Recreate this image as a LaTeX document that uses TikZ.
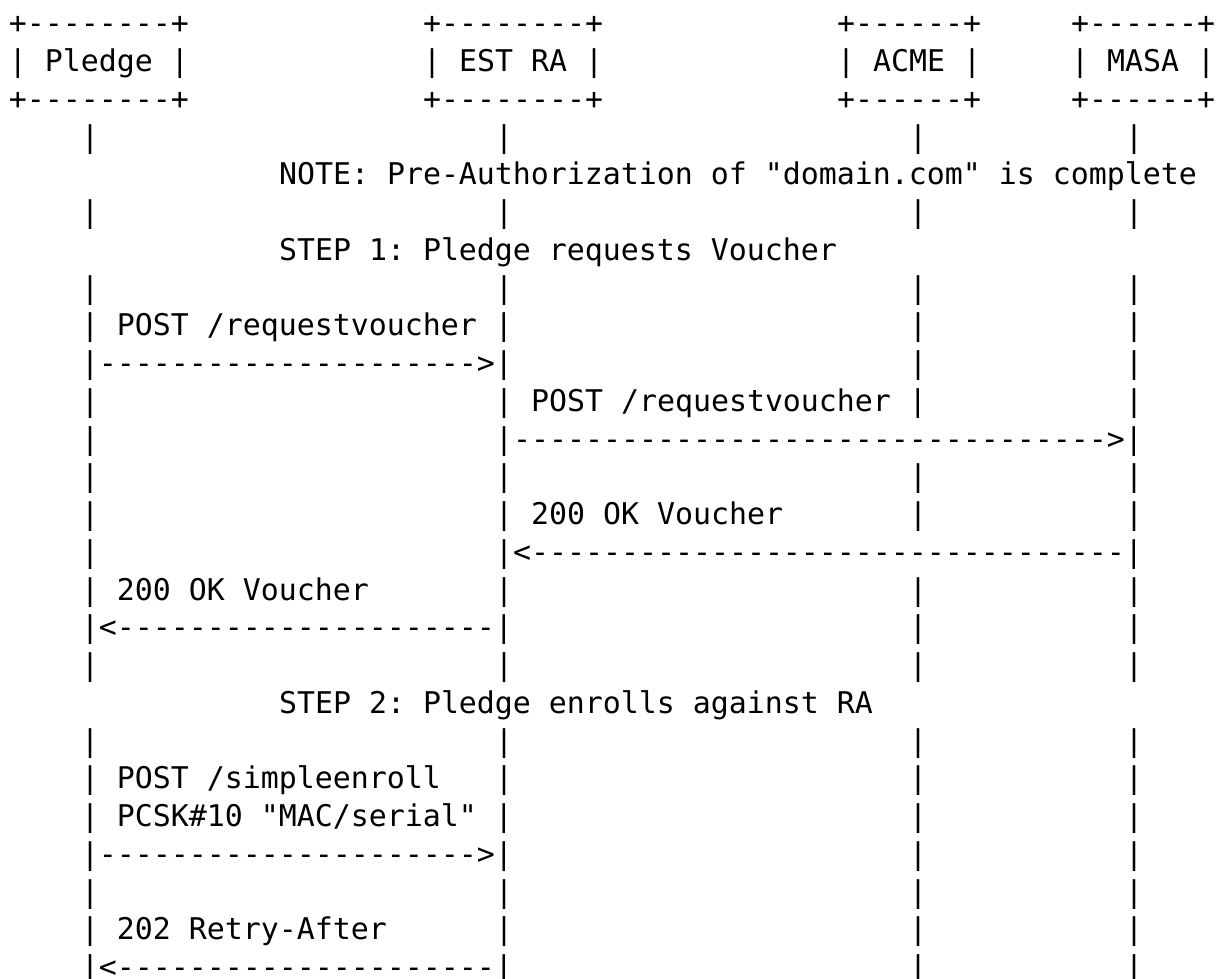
\documentclass[tikz,border=0pt]{standalone}
\usepackage{fontspec}
\setmonofont{DejaVu Sans Mono}
\begin{document}
\begin{tikzpicture}[x=0.5pt,y=-0.5pt,
  cell/.style={inner sep=0pt, outer sep=0pt, anchor=base west, text=black,
    font=\ttfamily\fontsize{14.95pt}{18pt}\selectfont}]
\useasboundingbox (0,0) rectangle (1222,979);
% one text run placed on the character grid: row #1, column #2
\newcommand\putcell[3]{\node[cell] (r#1c#2) at ({9+18*#2},{33.95+37.75*(#1-1)}) {#3};}
% lifeline columns: Pledge 4, EST RA 27, ACME 50, MASA 62

% participant boxes
\foreach \r in {1,3} {
  \putcell{\r}{0}{+--------+}
  \putcell{\r}{23}{+--------+}
  \putcell{\r}{46}{+------+}
  \putcell{\r}{59}{+------+}
}
\putcell{2}{0}{| Pledge |}
\putcell{2}{23}{| EST RA |}
\putcell{2}{46}{| ACME |}
\putcell{2}{59}{| MASA |}

% plain lifeline rows
\foreach \r in {4,6,8,13,18,20,24} {
  \foreach \c in {4,27,50,62} { \putcell{\r}{\c}{|} }
}

% notes and step headings
\putcell{5}{15}{NOTE: Pre-Authorization of "domain.com" is complete}
\putcell{7}{15}{STEP 1: Pledge requests Voucher}
\putcell{19}{15}{STEP 2: Pledge enrolls against RA}

% rows where only the ACME and MASA lifelines are plain
\foreach \r in {9,10,16,17,21,22,23,25,26} {
  \putcell{\r}{50}{|}
  \putcell{\r}{62}{|}
}
% rows where only the Pledge lifeline is plain
\foreach \r in {11,12,14,15} { \putcell{\r}{4}{|} }
\foreach \r in {16,21,25} { \putcell{\r}{27}{|} }

% STEP 1: voucher request
\putcell{9}{4}{| POST /requestvoucher |}
\putcell{10}{4}{|--------------------->|}
\putcell{11}{27}{| POST /requestvoucher |}
\putcell{11}{62}{|}
\putcell{12}{27}{|--------------------------------->|}
\putcell{14}{27}{| 200 OK Voucher}
\putcell{14}{50}{|}
\putcell{14}{62}{|}
\putcell{15}{27}{|<---------------------------------|}
\putcell{16}{4}{| 200 OK Voucher}
\putcell{17}{4}{|<---------------------|}

% STEP 2: enrollment
\putcell{21}{4}{| POST /simpleenroll}
\putcell{22}{4}{| PCSK\#10 "MAC/serial" |}
\putcell{23}{4}{|--------------------->|}
\putcell{25}{4}{| 202 Retry-After}
\putcell{26}{4}{|<---------------------|}
\end{tikzpicture}
\end{document}
